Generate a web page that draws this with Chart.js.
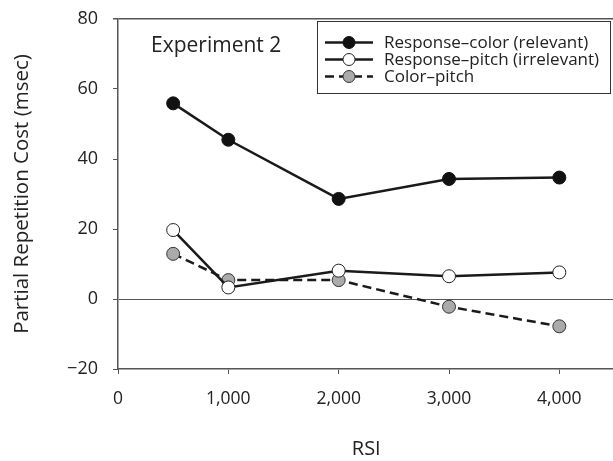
<!DOCTYPE html>
<html>
<head>
<meta charset="utf-8">
<script src="https://cdn.jsdelivr.net/npm/chart.js@4.4.0/dist/chart.umd.min.js"></script>
<style>
  html, body { margin: 0; padding: 0; background: #fff; overflow: hidden; }
  #wrap { width: 613px; height: 461px; overflow: hidden; }
</style>
</head>
<body>
<div id="wrap"><canvas id="grafica" width="622" height="461"></canvas></div>
<script>
// datos
const rsi = [500, 1000, 2000, 3000, 4000];
const respColor = [55.9, 45.5, 28.6, 34.3, 34.7];
const respPitch = [19.7, 3.3, 8.1, 6.5, 7.6];
const colorPitch = [12.9, 5.4, 5.4, -2.2, -7.8];
const xTicks = [0, 1000, 2000, 3000, 4000];
const yTicks = [-20, 0, 20, 40, 60, 80];
const nombres = ['Response\u2013color (relevant)', 'Response\u2013pitch (irrelevant)', 'Color\u2013pitch'];

const fuente = "'Open Sans', 'DejaVu Sans', sans-serif";
const gris = '#555';

function puntos(vals) {
    return rsi.map((x, i) => ({ x: x, y: vals[i] }));
}

// leyenda propia con linea + marcador
const leyenda = {
    id: 'leyenda',
    afterDraw(chart) {
        const ctx = chart.ctx;
        ctx.save();
        ctx.strokeStyle = '#333';
        ctx.lineWidth = 1;
        ctx.strokeRect(317.5, 21.5, 293, 72);
        ctx.font = '17px ' + fuente;
        ctx.textBaseline = 'middle';
        ctx.fillStyle = '#222';
        const filas = [42.5, 59.5, 76.5];
        chart.data.datasets.forEach((ds, i) => {
            const y = filas[i];
            ctx.beginPath();
            ctx.setLineDash(ds.borderDash || []);
            ctx.strokeStyle = ds.borderColor;
            ctx.lineWidth = ds.borderWidth;
            ctx.moveTo(325, y);
            ctx.lineTo(373, y);
            ctx.stroke();
            ctx.setLineDash([]);
            ctx.beginPath();
            ctx.arc(349, y, 6, 0, Math.PI * 2);
            ctx.fillStyle = ds.pointBackgroundColor;
            ctx.fill();
            ctx.lineWidth = 1;
            ctx.strokeStyle = ds.pointBorderColor;
            ctx.stroke();
            ctx.fillStyle = '#222';
            ctx.fillText(ds.label, 384, y + 1);
        });
        ctx.font = '21px ' + fuente;
        ctx.textBaseline = 'alphabetic';
        ctx.fillText('Experiment 2', 151, 52);
        ctx.restore();
    }
};

new Chart(document.getElementById('grafica'), {
    type: 'line',
    data: {
        datasets: [
            {
                label: nombres[0], data: puntos(respColor),
                borderColor: '#1a1a1a', borderWidth: 2.5,
                pointBackgroundColor: '#111', pointBorderColor: '#111',
                pointRadius: 6.5, pointBorderWidth: 1
            },
            {
                label: nombres[1], data: puntos(respPitch),
                borderColor: '#1a1a1a', borderWidth: 2.5,
                pointBackgroundColor: '#fff', pointBorderColor: '#222',
                pointRadius: 6.5, pointBorderWidth: 1
            },
            {
                label: nombres[2], data: puntos(colorPitch),
                borderColor: '#1a1a1a', borderWidth: 2.5, borderDash: [9, 5],
                pointBackgroundColor: '#aaa', pointBorderColor: '#333',
                pointRadius: 6.5, pointBorderWidth: 1
            }
        ]
    },
    options: {
        responsive: false,
        animation: false,
        layout: { padding: { top: 19, right: 5, bottom: 0 } },
        plugins: { legend: { display: false }, tooltip: { enabled: false } },
        scales: {
            x: {
                type: 'linear', min: 0, max: 4500,
                afterBuildTicks: s => { s.ticks = xTicks.map(v => ({ value: v })); },
                afterFit: s => { s.height = 92; },
                border: { display: true, color: gris, width: 1.5 },
                grid: { drawOnChartArea: false, tickLength: 5, tickColor: gris },
                ticks: {
                    color: '#222', padding: 15,
                    font: { family: fuente, size: 17.5 },
                    callback: v => v.toLocaleString('en-US')
                },
                title: {
                    display: true, text: 'RSI', color: '#222',
                    font: { family: fuente, size: 20 }, padding: { top: 16, bottom: 0 }
                }
            },
            y: {
                min: -20, max: 80,
                afterBuildTicks: s => { s.ticks = yTicks.map(v => ({ value: v })); },
                afterFit: s => { s.width = 118; s.paddingTop = 0; s.paddingBottom = 0; },
                border: { display: true, color: gris, width: 1.5 },
                grid: {
                    drawOnChartArea: true, tickLength: 5, tickColor: gris,
                    color: c => (c.tick && (c.tick.value === 0 || c.tick.value === 80)) ? gris : 'rgba(0,0,0,0)',
                    lineWidth: c => (c.tick && c.tick.value === 80) ? 1.5 : 1
                },
                ticks: {
                    color: '#222', padding: 15,
                    font: { family: fuente, size: 18 },
                    callback: v => v < 0 ? '\u2212' + Math.abs(v) : v
                },
                title: {
                    display: true, text: 'Partial Repetition Cost (msec)', color: '#222',
                    font: { family: fuente, size: 20.5 }, padding: { top: 10, bottom: 0 }
                }
            }
        }
    },
    plugins: [leyenda]
});
</script>
</body>
</html>
